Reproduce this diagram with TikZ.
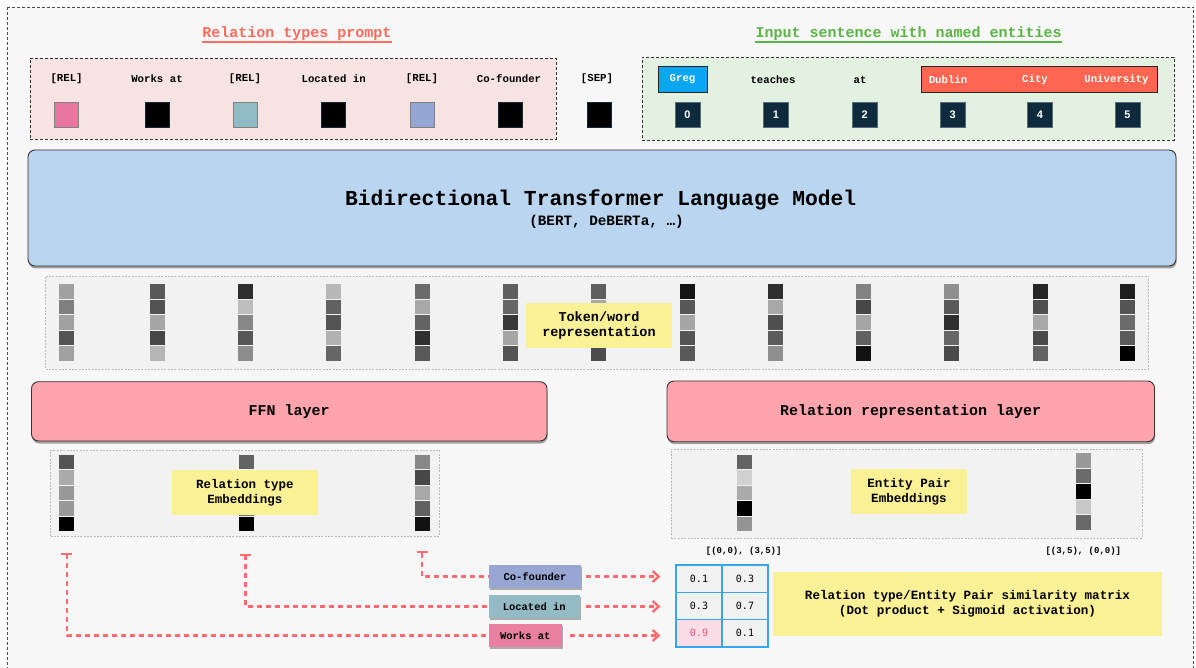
\documentclass[tikz,border=0pt]{standalone}
\usepackage{fontspec}
\setmonofont{Liberation Mono}
\newfontfamily\numfont{Liberation Sans}
\newfontfamily\valfont{DejaVu Sans Mono}
\usetikzlibrary{arrows.meta,shadows}
\newcommand{\myfs}[1]{\fontsize{#1}{#1}\selectfont\setlength{\baselineskip}{1.17\baselineskip}}
\definecolor{bgc}{HTML}{F7F7F7}
\definecolor{titred}{HTML}{FF6B5C}
\definecolor{titgreen}{HTML}{5BB545}
\definecolor{pinkbg}{HTML}{F7E3E2}
\definecolor{greenbg}{HTML}{E3F1E0}
\definecolor{relpink}{HTML}{E8769F}
\definecolor{relteal}{HTML}{8FBAC6}
\definecolor{relblue}{HTML}{95A6D4}
\definecolor{gregblue}{HTML}{0AA6F2}
\definecolor{entred}{HTML}{FF6550}
\definecolor{navy}{HTML}{0D2B3D}
\definecolor{tfblue}{HTML}{BAD5EF}
\definecolor{layerpink}{HTML}{FFA3AC}
\definecolor{notey}{HTML}{FAF096}
\definecolor{dashred}{HTML}{FF6B6E}
\definecolor{boxco}{HTML}{97A6D3}
\definecolor{boxloc}{HTML}{94BAC6}
\definecolor{boxwork}{HTML}{EA809F}
\definecolor{mblue}{HTML}{35A6F2}
\definecolor{mcell}{HTML}{F1F1F1}
\definecolor{mpink}{HTML}{FADDE6}
\definecolor{mred}{HTML}{EE4F6C}
\definecolor{vecbg}{HTML}{F2F2F2}
\definecolor{dotgray}{HTML}{BBBBBB}
\newcommand{\embvec}[4]{\foreach \g [count=\i] in {#4}{\node[cellst, fill=white!\g!black] (#1-\i) at (#2,{#3+7.25+(\i-1)*15.5}) {};}}
\begin{document}
\begin{tikzpicture}[x=1pt,y=-1pt,
 mono/.style={font=\ttfamily\bfseries\myfs{#1}, inner sep=0},
 promptbox/.style={draw=black!80, dash pattern=on 3pt off 2pt, line width=0.9pt, inner sep=0},
 sq/.style={minimum width=24, minimum height=25, inner sep=0, line width=0.8pt},
 numsq/.style={fill=navy, draw=navy!70!white, minimum width=25, minimum height=24.5, inner sep=0, text=white, font=\numfont\bfseries\myfs{11}},
 bigbox/.style={draw=black!80, line width=0.9pt, rounded corners=7pt, drop shadow={shadow xshift=0.6pt, shadow yshift=-2.5pt, opacity=0.35, fill=black}},
 dotbox/.style={draw=dotgray, fill=vecbg, dash pattern=on 2pt off 1.3pt, line width=0.9pt, inner sep=0},
 cellst/.style={minimum width=15, minimum height=14.5, inner sep=0},
 note/.style={fill=notey, inner sep=0, align=center, font=\ttfamily\bfseries\myfs{#1}},
 reddash/.style={draw=dashred, line width=2.4pt, dash pattern=on 5pt off 4pt},
 smallbox/.style={minimum height=23, inner sep=0, font=\ttfamily\bfseries\myfs{10.5}, drop shadow={shadow xshift=1pt, shadow yshift=-2pt, opacity=0.3, fill=black}},
 mcellst/.style={draw=mblue, line width=1.2pt, fill=mcell, minimum width=46, minimum height=27.3, inner sep=0, font=\valfont\myfs{10}}
]
\useasboundingbox (0,0) rectangle (1196,668);
\fill[white] (0,0) rectangle (1196,668);
\draw[fill=bgc, draw=black!70, dash pattern=on 3pt off 2pt, line width=0.8pt] (7.5,7) rectangle (1193,700);

% titles
\node[mono=15, text=titred] (ttlA) at (297,33.5) {Relation types prompt};
\draw[titred, line width=1.3pt] ([yshift=-1.2pt]ttlA.south west) -- ([yshift=-1.2pt]ttlA.south east);
\node[mono=15, text=titgreen] (ttlB) at (908.6,33.5) {Input sentence with named entities};
\draw[titgreen, line width=1.3pt] ([yshift=-1.2pt]ttlB.south west) -- ([yshift=-1.2pt]ttlB.south east);

% prompt box
\node[promptbox, fill=pinkbg, minimum width=526, minimum height=81] (prompt) at (293,98.5) {};
\node[promptbox, fill=greenbg, minimum width=532, minimum height=83] (sentence) at (908,98.5) {};

\node[mono=10.7] (l1) at (66.6,79) {[REL]};
\node[mono=10.7] (l2) at (157,79) {Works at};
\node[mono=10.7] (l3) at (245,79) {[REL]};
\node[mono=10.7] (l4) at (333.7,79) {Located in};
\node[mono=10.7] (l5) at (422,79) {[REL]};
\node[mono=10.7] (l6) at (509,78.5) {Co-founder};
\node[mono=10.7] (l7) at (597,79) {[SEP]};

\node[sq, fill=relpink, draw=gray] (s1) at (66.6,114.5) {};
\node[sq, fill=black, draw=navy] (s2) at (157,114.5) {};
\node[sq, fill=relteal, draw=gray] (s3) at (245,114.5) {};
\node[sq, fill=black, draw=navy] (s4) at (333.7,114.5) {};
\node[sq, fill=relblue, draw=gray] (s5) at (422,114.5) {};
\node[sq, fill=black, draw=navy] (s6) at (510,114.5) {};
\node[sq, fill=black, draw=navy] (s7) at (599,114.5) {};

% sentence
\node[draw=black!85, line width=0.9pt, fill=gregblue, minimum width=49, minimum height=25.5, text=white, mono=10.7] (greg) at (682.5,79.5) {Greg};
\node[mono=10.7] (teaches) at (773,79.5) {teaches};
\node[mono=10.7] (wat) at (860,79.5) {at};
\node[draw=black!85, line width=0.9pt, fill=entred, minimum width=235.7, minimum height=25.5, inner sep=0] (ent) at (1039.5,79.5) {};
\node[mono=10.7, text=white] (dublin) at (948,79.5) {Dublin};
\node[mono=10.7, text=white] (city) at (1035,79.5) {City};
\node[mono=10.7, text=white] (univ) at (1116.5,79.5) {University};
\foreach \x/\nn in {687.3/0, 775.8/1, 864.7/2, 952.7/3, 1040/4, 1127.5/5}
  \node[numsq] (n\nn) at (\x,114.5) {\nn};

% transformer
\node[bigbox, fill=tfblue, minimum width=1148, minimum height=116, inner sep=0] (bert) at (602,208) {};
\node[mono=21.3] (berttitle) at (600.7,200) {Bidirectional Transformer Language Model};
\node[mono=14.3] (bertsub) at (606.5,222) {(BERT, DeBERTa, …)};

% token representations
\node[dotbox, minimum width=1103, minimum height=93] (tokbox) at (597,322.5) {};
\embvec{t1}{66.5}{284}{63,50,63,33,63}
\embvec{t2}{157.6}{284}{35,32,65,28,71}
\embvec{t3}{245.5}{284}{18,74,53,34,55}
\embvec{t4}{333.5}{284}{72,38,33,70,40}
\embvec{t5}{422.5}{284}{42,66,39,19,35}
\embvec{t6}{510.5}{284}{37,40,22,65,33}
\embvec{t7}{598.5}{284}{37,66,50,40,30}
\embvec{t8}{687.5}{284}{8,34,65,33,35}
\embvec{t9}{775.5}{284}{18,66,31,36,56}
\embvec{t10}{863.6}{284}{51,28,65,38,7}
\embvec{t11}{951.6}{284}{56,35,18,40,29}
\embvec{t12}{1040}{284}{15,31,66,29,39}
\embvec{t13}{1127.6}{284}{12,33,42,36,0}
\node[note=13.5, minimum width=146, minimum height=45] (toklbl) at (599,325.5) {Token/word\\representation};

% layers
\node[bigbox, fill=layerpink, mono=15, minimum width=515.5, minimum height=59.3] (ffn) at (289.25,411.35) {FFN layer};
\node[bigbox, fill=layerpink, mono=15, minimum width=487.5, minimum height=60.7] (relrep) at (910.75,411.35) {Relation representation layer};

% relation type embeddings
\node[dotbox, minimum width=388.3, minimum height=86] (relembbox) at (244.85,493) {};
\embvec{r1}{66.3}{454.5}{33,67,60,60,0}
\embvec{r2}{246.3}{454.5}{39,60,50,45,0}
\embvec{r3}{422.6}{454.5}{53,28,66,38,7}
\node[note=12.5, minimum width=146, minimum height=45] (rellbl) at (245,492.5) {Relation type\\Embeddings};

% entity pair embeddings
\node[dotbox, minimum width=471, minimum height=89] (entbox) at (906.5,493.5) {};
\embvec{e1}{744.5}{454.5}{39,82,67,0,58}
\embvec{e2}{1083.5}{453}{60,42,0,78,41}
\node[note=12.6, minimum width=116, minimum height=45] (entlbl) at (909,491.5) {Entity Pair\\Embeddings};
\node[mono=9] (p1) at (743.7,551) {[(0,0), (3,5)]};
\node[mono=9] (p2) at (1083.3,551) {[(3,5), (0,0)]};

% bottom relation boxes
\node[smallbox, fill=boxco, minimum width=92] (bco) at (535,576.5) {Co-founder};
\node[smallbox, fill=boxloc, minimum width=91.5] (bloc) at (534.25,606.5) {Located in};
\node[smallbox, fill=boxwork, minimum width=73.5] (bwork) at (525.25,635.5) {Works at};

% matrix
\node[mcellst] (m11) at (699,578.65) {0.1};
\node[mcellst] (m12) at (745,578.65) {0.3};
\node[mcellst] (m21) at (699,605.95) {0.3};
\node[mcellst] (m22) at (745,605.95) {0.7};
\node[mcellst, fill=mpink, text=mred] (m31) at (699,633.25) {0.9};
\node[mcellst] (m32) at (745,633.25) {0.1};
\node[note=12.6, minimum width=389, minimum height=64] (mlbl) at (967.5,604) {Relation type/Entity Pair similarity matrix\\(Dot product + Sigmoid activation)};

% connectors
\coordinate (tA) at (66.7,552.5);
\coordinate (tB) at (245.3,553.5);
\coordinate (tC) at (422,551);
\draw[reddash, {Bar[width=11pt]}-] (tA) |- (bwork.west);
\draw[reddash, {Bar[width=11pt]}-] (tB) |- (bloc.west);
\draw[reddash, {Bar[width=11pt]}-] (tC) |- (bco.west);
\draw[reddash, -{Straight Barb[length=6pt,width=11pt]}, shorten <=5pt, shorten >=15pt] (bco.east) -- (bco.east -| m11.west);
\draw[reddash, -{Straight Barb[length=6pt,width=11pt]}, shorten <=6pt, shorten >=15pt] (bloc.east) -- (bloc.east -| m21.west);
\draw[reddash, -{Straight Barb[length=6pt,width=11pt]}, shorten <=8pt, shorten >=15pt] (bwork.east) -- (bwork.east -| m31.west);
\end{tikzpicture}
\end{document}
